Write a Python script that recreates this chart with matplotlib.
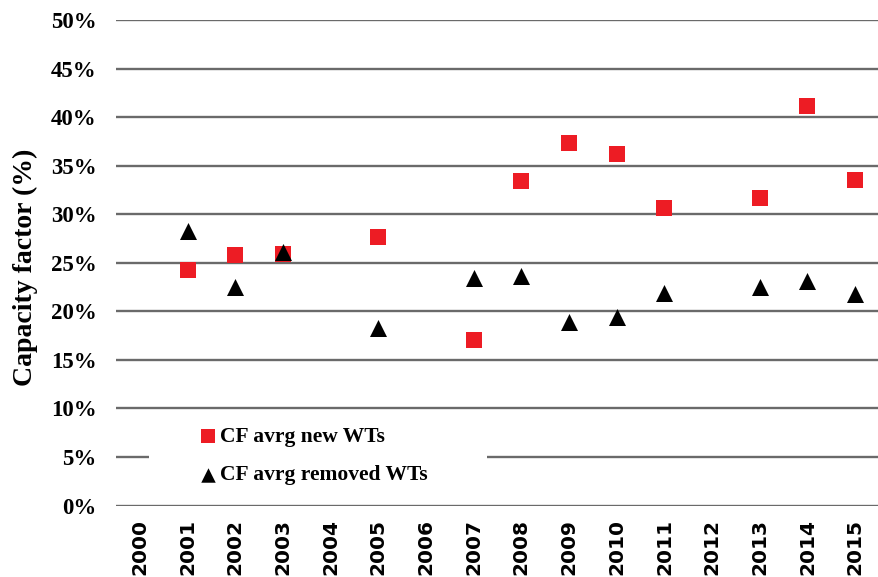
import matplotlib
matplotlib.use('Agg')
import matplotlib.pyplot as plt
from matplotlib.patches import Rectangle
from matplotlib.ticker import FuncFormatter

# datos
anios = ['2000', '2001', '2002', '2003', '2004', '2005', '2006', '2007',
         '2008', '2009', '2010', '2011', '2012', '2013', '2014', '2015']

# CF promedio de aerogeneradores nuevos (None = sin dato)
cf_nuevos = [None, 24.3, 25.8, 25.9, None, 27.7, None, 17.0,
             33.4, 37.3, 36.2, 30.6, None, 31.7, 41.1, 33.5]

# CF promedio de aerogeneradores retirados
cf_retirados = [None, 28.3, 22.5, 26.1, None, 18.3, None, 23.4,
                23.6, 18.9, 19.45, 21.85, None, 22.5, 23.1, 21.75]

etiqueta_nuevos = 'CF avrg new WTs'
etiqueta_retirados = 'CF avrg removed WTs'

W, H = 879, 577
fig = plt.figure(figsize=(W / 100, H / 100), dpi=100)
ax = fig.add_axes([116 / W, 1 - 505.5 / H, 763 / W, 485.5 / H])

serif = 'Liberation Serif'

# puntos, saltando los anios sin dato
xs_n = [i for i, v in enumerate(cf_nuevos) if v is not None]
ys_n = [v for v in cf_nuevos if v is not None]
xs_r = [i for i, v in enumerate(cf_retirados) if v is not None]
ys_r = [v for v in cf_retirados if v is not None]

ax.scatter(xs_n, ys_n, marker='s', s=140, color='#ed1c24', linewidths=0,
           zorder=3, label=etiqueta_nuevos)
ax.scatter(xs_r, ys_r, marker='^', s=150, color='black', linewidths=0,
           zorder=4, label=etiqueta_retirados)

# ejes
ax.set_xlim(-0.5, len(anios) - 0.5)
ax.set_ylim(0, 50)
ax.set_yticks(range(0, 51, 5))
ax.yaxis.set_major_formatter(FuncFormatter(lambda v, p: f'{int(v)}%'))
ax.set_xticks(range(len(anios)))
ax.set_xticklabels(anios, rotation=90, family='DejaVu Sans',
                   fontweight='bold', fontsize=14.5)
for lbl in ax.get_yticklabels():
    lbl.set_family(serif)
    lbl.set_fontweight('bold')
    lbl.set_fontsize(16.5)

ax.tick_params(length=0)
ax.tick_params(axis='y', pad=14)
ax.tick_params(axis='x', pad=10)
for sp in ax.spines.values():
    sp.set_visible(False)

ax.grid(axis='y', color='#6a6a6a', linewidth=1.7, zorder=1)
ax.set_axisbelow(True)

ax.set_ylabel('Capacity factor (%)', family=serif, fontweight='bold',
              fontsize=20)
ax.yaxis.set_label_coords(-(116 - 38) / 763, 0.49)

# fondo blanco de la leyenda (tapa la linea del 5%)
ax.add_patch(Rectangle((149 / W, 1 - 497 / H), 338 / W, 82 / H,
                       transform=fig.transFigure, facecolor='white',
                       edgecolor='none', zorder=2, clip_on=False))

leg = ax.legend(loc='center left', bbox_to_anchor=(202 / W, 1 - 456 / H),
                bbox_transform=fig.transFigure, frameon=False,
                prop={'family': serif, 'weight': 'bold', 'size': 15.5},
                handlelength=0.6, handletextpad=0.25, labelspacing=0.85,
                borderpad=0, borderaxespad=0, markerscale=0.85)

fig.savefig('out.png', dpi=100)
